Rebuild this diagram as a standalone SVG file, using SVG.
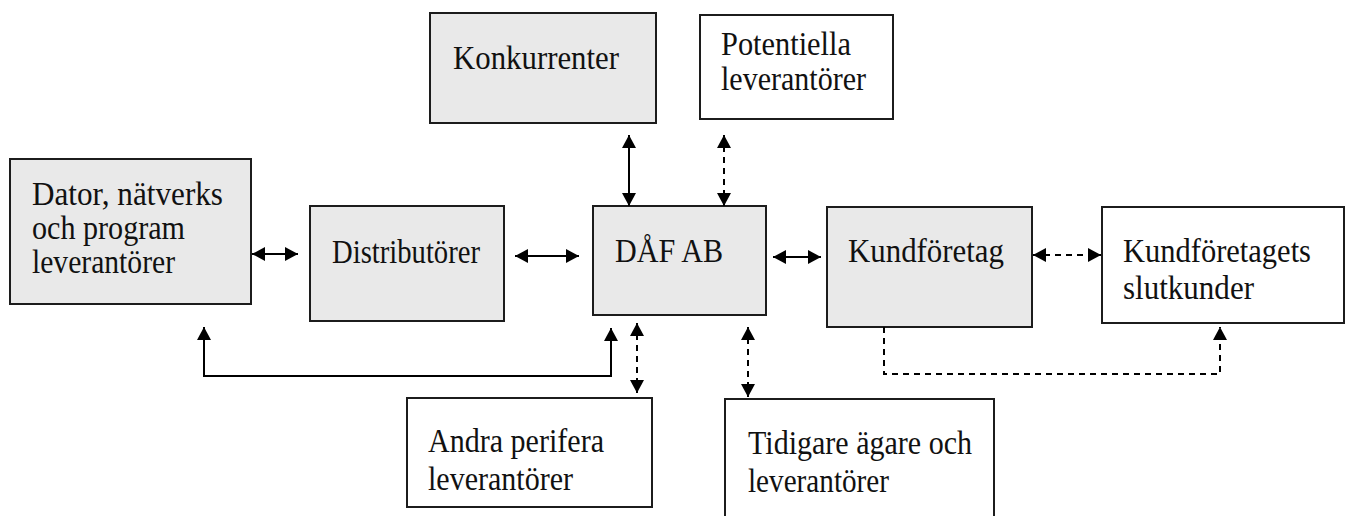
<svg xmlns="http://www.w3.org/2000/svg" width="1346" height="516" viewBox="0 0 1346 516">
<style>
.box{stroke:#1c1c1c;stroke-width:2}
.g{fill:#e9e9e9}
.w{fill:#ffffff}
text{font-family:"Liberation Serif","Times New Roman",serif;font-size:34px;fill:#111}
.c{fill:none;stroke:#000;stroke-width:2}
.d{stroke-dasharray:6,5}
</style>
<defs>
<marker id="ah" markerUnits="userSpaceOnUse" markerWidth="14" markerHeight="15" refX="13" refY="7" orient="auto-start-reverse" viewBox="0 0 14 15">
<path d="M0,0 L13,7 L0,14 z" fill="#000"/>
</marker>
</defs>
<rect width="1346" height="516" fill="#fff"/>
<g id="n-dator">
<rect class="box g" x="10" y="159" width="241" height="145"/>
<text x="32" y="205" textLength="191" lengthAdjust="spacingAndGlyphs">Dator, nätverks</text>
<text x="32" y="239" textLength="153" lengthAdjust="spacingAndGlyphs">och program</text>
<text x="32" y="273" textLength="143" lengthAdjust="spacingAndGlyphs">leverantörer</text>
</g>
<g id="n-distributorer">
<rect class="box g" x="310" y="206" width="194" height="115"/>
<text x="332" y="263" textLength="148" lengthAdjust="spacingAndGlyphs">Distributörer</text>
</g>
<g id="n-konkurrenter">
<rect class="box g" x="430" y="13" width="226" height="110"/>
<text x="453" y="69" textLength="166" lengthAdjust="spacingAndGlyphs">Konkurrenter</text>
</g>
<g id="n-potentiella">
<rect class="box w" x="700" y="15" width="193" height="104"/>
<text x="721" y="55" textLength="130" lengthAdjust="spacingAndGlyphs">Potentiella</text>
<text x="721" y="90" textLength="145" lengthAdjust="spacingAndGlyphs">leverantörer</text>
</g>
<g id="n-daf">
<rect class="box g" x="593" y="206" width="173" height="109"/>
<text x="615" y="262" textLength="108" lengthAdjust="spacingAndGlyphs">DÅF AB</text>
</g>
<g id="n-kundforetag">
<rect class="box g" x="827" y="207" width="205" height="120"/>
<text x="848" y="262" textLength="156" lengthAdjust="spacingAndGlyphs">Kundföretag</text>
</g>
<g id="n-slutkunder">
<rect class="box w" x="1102" y="207" width="242" height="116"/>
<text x="1123" y="262" textLength="188" lengthAdjust="spacingAndGlyphs">Kundföretagets</text>
<text x="1123" y="299" textLength="131" lengthAdjust="spacingAndGlyphs">slutkunder</text>
</g>
<g id="n-andra">
<rect class="box w" x="407" y="398" width="245" height="109"/>
<text x="428" y="452" textLength="176" lengthAdjust="spacingAndGlyphs">Andra perifera</text>
<text x="428" y="490" textLength="145" lengthAdjust="spacingAndGlyphs">leverantörer</text>
</g>
<g id="n-tidigare">
<rect class="box w" x="725" y="399" width="269" height="131"/>
<text x="748" y="454" textLength="224" lengthAdjust="spacingAndGlyphs">Tidigare ägare och</text>
<text x="748" y="492" textLength="141" lengthAdjust="spacingAndGlyphs">leverantörer</text>
</g>
<g id="connectors">
<path class="c" d="M252,254 H298" marker-start="url(#ah)" marker-end="url(#ah)"/>
<path class="c" d="M515,256 H579" marker-start="url(#ah)" marker-end="url(#ah)"/>
<path class="c" d="M629,135 V206" marker-start="url(#ah)" marker-end="url(#ah)"/>
<path class="c d" d="M724,135 V206" marker-start="url(#ah)" marker-end="url(#ah)"/>
<path class="c" d="M773,257 H821" marker-start="url(#ah)" marker-end="url(#ah)"/>
<path class="c d" d="M1033,255 H1101" marker-start="url(#ah)" marker-end="url(#ah)"/>
<path class="c" d="M204,327 V376 H611 V328" marker-start="url(#ah)" marker-end="url(#ah)"/>
<path class="c d" d="M637,323 V393" marker-start="url(#ah)" marker-end="url(#ah)"/>
<path class="c d" d="M748,327 V397" marker-start="url(#ah)" marker-end="url(#ah)"/>
<path class="c d" d="M884,327 V374 H1220 V327" marker-end="url(#ah)"/>
</g>
</svg>
